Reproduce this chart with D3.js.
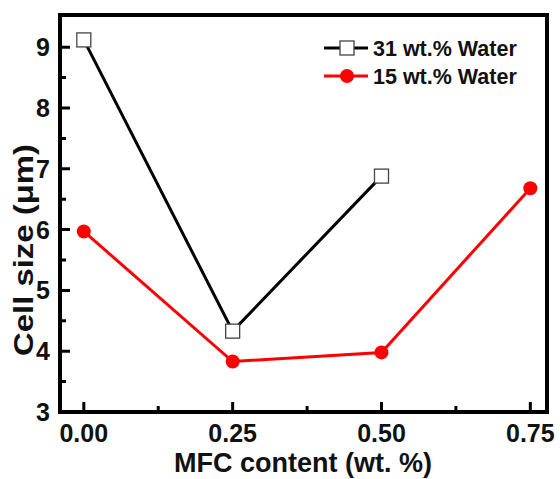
<!DOCTYPE html>
<html>
<head>
<meta charset="utf-8">
<script src="https://cdn.jsdelivr.net/npm/d3@7"></script>
<style>
  body { margin: 0; background: #fff; }
  text { font-family: "Liberation Sans", Arial, sans-serif; font-weight: bold; fill: #111; }
</style>
</head>
<body>
<svg id="chart" width="560" height="479"></svg>
<script>
const mfc31 = [0, 0.25, 0.5]
const cell31 = [9.12, 4.33, 6.88]
const mfc15 = [0, 0.25, 0.5, 0.75]
const cell15 = [5.97, 3.83, 3.98, 6.68]
const xTicks = [0, 0.25, 0.5, 0.75]
const xMinor = [0.125, 0.375, 0.625]
const yTicks = [3, 4, 5, 6, 7, 8, 9]
const yMinor = [3.5, 4.5, 5.5, 6.5, 7.5, 8.5]

const margin = { top: 15, right: 13, bottom: 67, left: 60 }
const width = 560, height = 479

const svg = d3.select('#chart')

let x = d3.scaleLinear().domain([-0.04, 0.778]).range([margin.left, width - margin.right])
let y = d3.scaleLinear().domain([3, 9.53]).range([height - margin.bottom, margin.top])

let x0 = x.range()[0], yb = y.range()[0]

// frame
svg.append('rect')
  .attr('x', x0).attr('y', y.range()[1])
  .attr('width', x.range()[1] - x0)
  .attr('height', yb - y.range()[1])
  .attr('fill', 'none').attr('stroke', '#000').attr('stroke-width', 4)

// inward tick marks, drawn as paths on top of the frame
let tickPath = svg.append('path')
  .attr('fill', 'none').attr('stroke', '#000').attr('stroke-width', 3)
let p = d3.path()
xTicks.forEach(d => { p.moveTo(x(d), yb); p.lineTo(x(d), yb - 10) })
xMinor.forEach(d => { p.moveTo(x(d), yb); p.lineTo(x(d), yb - 6) })
yTicks.forEach(d => { p.moveTo(x0, y(d)); p.lineTo(x0 + 10, y(d)) })
yMinor.forEach(d => { p.moveTo(x0, y(d)); p.lineTo(x0 + 6, y(d)) })
tickPath.attr('d', p.toString())

// tick labels
svg.selectAll('text.xl').data(xTicks).join('text')
  .attr('class', 'xl')
  .attr('x', d => x(d)).attr('y', 442)
  .attr('text-anchor', 'middle').attr('font-size', 25)
  .text(d => d3.format('.2f')(d))
svg.selectAll('text.yl').data(yTicks).join('text')
  .attr('class', 'yl')
  .attr('x', 50).attr('y', d => y(d) + 9)
  .attr('text-anchor', 'end').attr('font-size', 25)
  .text(d => d)

// axis titles
svg.append('text')
  .attr('x', 303).attr('y', 472)
  .attr('text-anchor', 'middle').attr('font-size', 27)
  .text('MFC content (wt. %)')
svg.append('text')
  .attr('transform', 'translate(33, 250) rotate(-90)')
  .attr('text-anchor', 'middle').attr('font-size', 27)
  .attr('textLength', 212).attr('lengthAdjust', 'spacingAndGlyphs')
  .text('Cell size (μm)')

let line = d3.line().x(d => x(d[0])).y(d => y(d[1]))

let red = mfc15.map((m, i) => [m, cell15[i]])
let black = mfc31.map((m, i) => [m, cell31[i]])

svg.append('path').datum(red).attr('d', line)
  .attr('fill', 'none').attr('stroke', '#f00').attr('stroke-width', 3)
svg.selectAll('circle.rdot').data(red).join('circle')
  .attr('class', 'rdot')
  .attr('cx', d => x(d[0])).attr('cy', d => y(d[1])).attr('r', 7)
  .attr('fill', '#f00')

svg.append('path').datum(black).attr('d', line)
  .attr('fill', 'none').attr('stroke', '#000').attr('stroke-width', 3)
svg.selectAll('rect.bsq').data(black).join('rect')
  .attr('class', 'bsq')
  .attr('x', d => x(d[0]) - 7).attr('y', d => y(d[1]) - 7)
  .attr('width', 14).attr('height', 14)
  .attr('fill', '#fff').attr('stroke', '#444').attr('stroke-width', 1.3)

// legend
let legend = [
  { label: '31 wt.% Water', color: '#000', shape: 'square' },
  { label: '15 wt.% Water', color: '#f00', shape: 'circle' }
]
let lg = svg.append('g')
legend.forEach((d, i) => {
  let cy = 48 + i * 28
  lg.append('line').attr('x1', 324).attr('x2', 368).attr('y1', cy).attr('y2', cy)
    .attr('stroke', d.color).attr('stroke-width', 3)
  if (d.shape === 'square') {
    lg.append('rect').attr('x', 340).attr('y', cy - 7).attr('width', 14).attr('height', 14)
      .attr('fill', '#fff').attr('stroke', '#444').attr('stroke-width', 1.3)
  } else {
    lg.append('circle').attr('cx', 347).attr('cy', cy).attr('r', 7).attr('fill', d.color)
  }
  lg.append('text').attr('x', 373).attr('y', cy + 8).attr('font-size', 21.5).text(d.label)
})
</script>
</body>
</html>
